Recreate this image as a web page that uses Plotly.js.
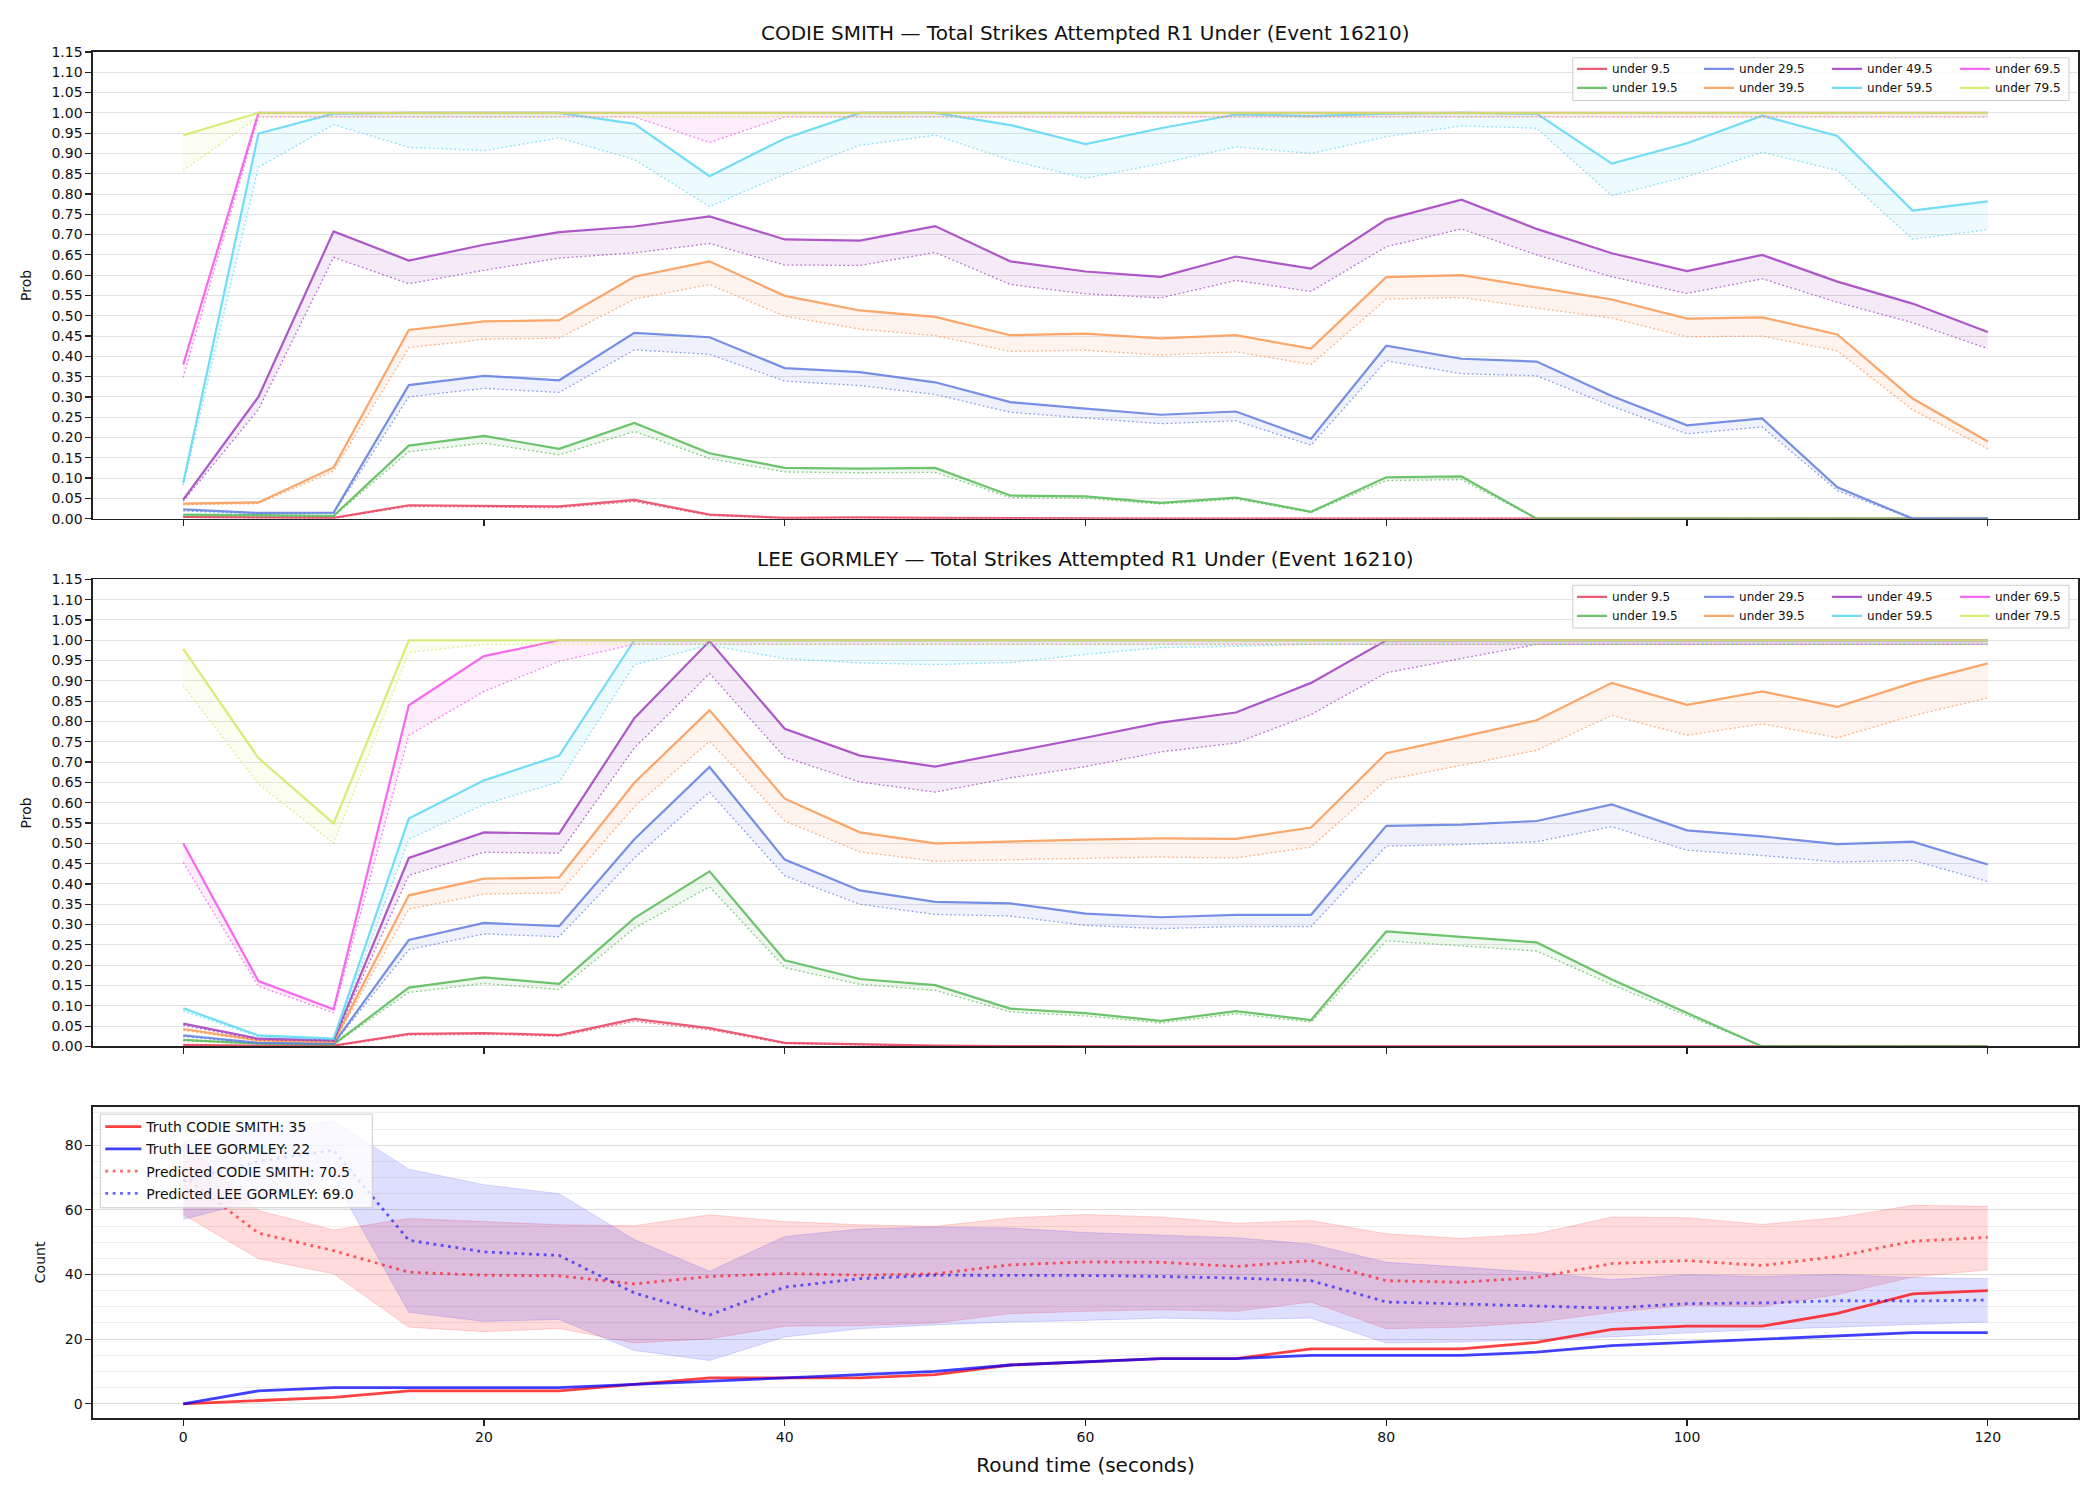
<!DOCTYPE html>
<html>
<head>
<meta charset="utf-8">
<script src="https://cdn.plot.ly/plotly-3.0.1.min.js"></script>
<style>html,body{margin:0;padding:0;background:#fff;}#chart{width:2100px;height:1500px;}</style>
</head>
<body>
<div id="chart"></div>
<script>
// ---------------- DATA ----------------
const times = [0,5,10,15,20,25,30,35,40,45,50,55,60,65,70,75,80,85,90,95,100,105,110,115,120];
const thresholdLabels = ["under 9.5","under 19.5","under 29.5","under 39.5","under 49.5","under 59.5","under 69.5","under 79.5"];

const panelTitles = ["CODIE SMITH \u2014 Total Strikes Attempted R1 Under (Event 16210)",
                     "LEE GORMLEY \u2014 Total Strikes Attempted R1 Under (Event 16210)"];

// CODIE SMITH: solid (main) and dotted (lower) probabilities
const codieU9    = [0.004,0.003,0.002,0.033,0.032,0.030,0.046,0.010,0.002,0.003,0.002,0.001,0,0,0,0,0,0,0,0,0,0,0,0,0];
const codieU9Lo  = [0.003,0.002,0.001,0.030,0.029,0.027,0.042,0.008,0.001,0.002,0.001,0.001,0,0,0,0,0,0,0,0,0,0,0,0,0];
const codieU19   = [0.010,0.008,0.007,0.180,0.204,0.172,0.236,0.161,0.125,0.123,0.125,0.057,0.055,0.039,0.052,0.017,0.102,0.104,0,0,0,0,0,0,0];
const codieU19Lo = [0.007,0.006,0.005,0.165,0.186,0.157,0.215,0.148,0.115,0.113,0.114,0.052,0.050,0.036,0.048,0.015,0.094,0.096,0,0,0,0,0,0,0];
const codieU29   = [0.023,0.014,0.015,0.329,0.352,0.341,0.458,0.447,0.371,0.361,0.336,0.287,0.271,0.256,0.264,0.197,0.426,0.394,0.387,0.302,0.230,0.247,0.077,0,0];
const codieU29Lo = [0.019,0.012,0.013,0.300,0.321,0.311,0.416,0.405,0.339,0.328,0.306,0.262,0.248,0.234,0.241,0.181,0.389,0.357,0.352,0.277,0.209,0.226,0.069,0,0];
const codieU39   = [0.037,0.040,0.126,0.465,0.486,0.489,0.596,0.634,0.549,0.513,0.497,0.452,0.456,0.444,0.452,0.419,0.595,0.600,0.570,0.540,0.493,0.496,0.454,0.296,0.190];
const codieU39Lo = [0.034,0.037,0.117,0.421,0.442,0.445,0.541,0.577,0.499,0.467,0.451,0.412,0.415,0.403,0.411,0.380,0.541,0.545,0.519,0.494,0.448,0.450,0.413,0.268,0.172];
const codieU49   = [0.047,0.300,0.708,0.636,0.675,0.706,0.720,0.745,0.688,0.685,0.721,0.634,0.609,0.596,0.646,0.616,0.737,0.786,0.714,0.654,0.610,0.650,0.584,0.530,0.460];
const codieU49Lo = [0.043,0.269,0.644,0.579,0.612,0.642,0.655,0.678,0.625,0.624,0.656,0.577,0.554,0.544,0.587,0.560,0.670,0.714,0.650,0.596,0.555,0.591,0.533,0.483,0.419];
const codieU59   = [0.088,0.949,0.998,1.0,1.0,1.0,0.973,0.844,0.937,1.0,1.0,0.970,0.923,0.962,0.996,0.992,0.998,1.0,0.998,0.875,0.925,0.993,0.943,0.759,0.782];
const codieU59Lo = [0.082,0.866,0.971,0.915,0.907,0.938,0.885,0.769,0.849,0.920,0.945,0.883,0.839,0.875,0.916,0.900,0.941,0.968,0.962,0.796,0.843,0.903,0.858,0.689,0.712];
const codieU69   = [0.380,1,1,1,1,1,1,1,1,1,1,1,1,1,1,1,1,1,1,1,1,1,1,1,1];
const codieU69Lo = [0.348,0.99,0.99,0.99,0.99,0.99,0.99,0.927,0.99,0.99,0.99,0.99,0.99,0.99,0.99,0.99,0.99,0.99,0.99,0.99,0.99,0.99,0.99,0.99,0.99];
const codieU79   = [0.945,1,1,1,1,1,1,1,1,1,1,1,1,1,1,1,1,1,1,1,1,1,1,1,1];
const codieU79Lo = [0.858,0.99,0.99,0.99,0.99,0.99,0.99,0.99,0.99,0.99,0.99,0.99,0.99,0.99,0.99,0.99,0.99,0.99,0.99,0.99,0.99,0.99,0.99,0.99,0.99];

// LEE GORMLEY
const leeU9    = [0.004,0.002,0.002,0.031,0.033,0.028,0.068,0.045,0.009,0.005,0.002,0.001,0,0,0,0,0,0,0,0,0,0,0,0,0];
const leeU9Lo  = [0.003,0.001,0.001,0.028,0.030,0.025,0.062,0.041,0.007,0.004,0.001,0.001,0,0,0,0,0,0,0,0,0,0,0,0,0];
const leeU19   = [0.016,0.007,0.005,0.145,0.170,0.154,0.316,0.431,0.212,0.166,0.151,0.093,0.082,0.063,0.087,0.065,0.283,0.270,0.256,0.165,0.083,0,0,0,0];
const leeU19Lo = [0.014,0.006,0.004,0.133,0.155,0.140,0.291,0.393,0.194,0.153,0.138,0.085,0.075,0.058,0.080,0.060,0.260,0.248,0.235,0.152,0.076,0,0,0,0];
const leeU29   = [0.027,0.009,0.007,0.262,0.304,0.296,0.510,0.688,0.460,0.384,0.356,0.352,0.327,0.318,0.324,0.324,0.543,0.546,0.555,0.596,0.532,0.517,0.498,0.504,0.448];
const leeU29Lo = [0.024,0.008,0.006,0.238,0.277,0.270,0.464,0.626,0.420,0.350,0.325,0.321,0.298,0.290,0.295,0.295,0.493,0.497,0.504,0.541,0.483,0.470,0.454,0.458,0.406];
const leeU39   = [0.043,0.015,0.011,0.372,0.413,0.416,0.649,0.828,0.610,0.527,0.500,0.505,0.509,0.512,0.511,0.539,0.722,0.762,0.803,0.895,0.841,0.874,0.836,0.895,0.943];
const leeU39Lo = [0.040,0.013,0.009,0.338,0.375,0.378,0.590,0.751,0.555,0.479,0.456,0.460,0.463,0.466,0.464,0.491,0.656,0.692,0.729,0.815,0.766,0.794,0.760,0.814,0.858];
const leeU49   = [0.056,0.019,0.015,0.464,0.527,0.524,0.808,0.998,0.782,0.716,0.689,0.724,0.760,0.797,0.822,0.895,1,1,1,1,1,1,1,1,1];
const leeU49Lo = [0.052,0.016,0.013,0.421,0.478,0.476,0.735,0.918,0.712,0.651,0.626,0.661,0.689,0.725,0.747,0.817,0.920,0.955,0.99,0.99,0.99,0.99,0.99,0.99,0.99];
const leeU59   = [0.094,0.027,0.019,0.561,0.655,0.716,1,1,1,1,1,1,1,1,1,1,1,1,1,1,1,1,1,1,1];
const leeU59Lo = [0.087,0.024,0.016,0.510,0.596,0.651,0.940,0.988,0.955,0.944,0.940,0.945,0.965,0.982,0.985,0.99,0.99,0.99,0.99,0.99,0.99,0.99,0.99,0.99,0.99];
const leeU69   = [0.500,0.161,0.0915,0.840,0.961,1,1,1,1,1,1,1,1,1,1,1,1,1,1,1,1,1,1,1,1];
const leeU69Lo = [0.453,0.148,0.083,0.766,0.874,0.948,0.99,0.99,0.99,0.99,0.99,0.99,0.99,0.99,0.99,0.99,0.99,0.99,0.99,0.99,0.99,0.99,0.99,0.99,0.99];
const leeU79   = [0.979,0.710,0.549,1,1,1,1,1,1,1,1,1,1,1,1,1,1,1,1,1,1,1,1,1,1];
const leeU79Lo = [0.888,0.646,0.500,0.970,0.990,0.99,0.99,0.99,0.99,0.99,0.99,0.99,0.99,0.99,0.99,0.99,0.99,0.99,0.99,0.99,0.99,0.99,0.99,0.99,0.99];

// Bottom panel: counts
const countNames = ["Truth CODIE SMITH: 35","Truth LEE GORMLEY: 22","Predicted CODIE SMITH: 70.5","Predicted LEE GORMLEY: 69.0"];
const truthCodie = [0,1,2,4,4,4,6,8,8,8,9,12,13,14,14,17,17,17,19,23,24,24,28,34,35];
const truthLee   = [0,4,5,5,5,5,6,7,8,9,10,12,13,14,14,15,15,15,16,18,19,20,21,22,22];
const predCodie  = [70.5,52.8,47.4,40.7,39.8,39.6,37.1,39.4,40.3,39.8,40.2,43.0,43.9,43.8,42.5,44.3,38.1,37.6,39.1,43.4,44.3,42.8,45.6,50.3,51.5];
const predLee    = [69.0,75.0,78.5,50.6,47.0,45.9,34.3,27.5,36.1,38.7,39.8,39.8,39.7,39.4,38.9,38.1,31.5,30.9,30.2,29.6,31.0,31.2,31.9,31.8,32.1];
const bandCodieHi = [81.5,59.8,53.8,57.3,56.4,55.4,55.1,58.5,56.4,55.4,54.9,57.5,58.6,57.8,55.9,56.7,52.6,51.2,52.6,57.8,57.6,55.5,57.6,61.4,61.1];
const bandCodieLo = [58.5,44.9,40.2,23.7,22.3,23.3,18.8,20.1,24.0,24.2,25.0,27.9,28.6,29.1,28.6,31.5,23.2,23.7,25.2,28.3,30.4,30.1,33.8,39.2,41.5];
const bandLeeHi   = [81.0,85.0,87.5,72.6,67.8,65.0,50.8,41.0,51.8,54.1,54.7,54.4,53.0,52.1,51.4,49.4,43.8,42.3,40.7,38.4,39.9,39.4,40.0,39.1,38.7];
const bandLeeLo   = [57.0,63.1,69.8,28.3,25.5,26.1,16.5,13.4,20.7,23.2,24.4,25.3,25.8,26.5,26.1,26.5,18.8,19.1,19.9,20.7,21.9,23.0,23.7,24.4,25.3];

// ---------------- STYLE ----------------
const FONT = "DejaVu Sans";
const thrRGB = ["232,64,95","85,186,85","95,125,225","250,150,80","160,60,190","90,215,245","245,80,235","205,235,95"];
const W = 2100, H = 1500;
const M = {l: 92.7, r: 22, t: 51.5, b: 82};
const PW = W - M.l - M.r, PH = H - M.t - M.b;
const px2x = p => (p - M.l) / PW;
const py2y = p => (H - M.b - p) / PH;

const codieHi = [codieU9,codieU19,codieU29,codieU39,codieU49,codieU59,codieU69,codieU79];
const codieLo = [codieU9Lo,codieU19Lo,codieU29Lo,codieU39Lo,codieU49Lo,codieU59Lo,codieU69Lo,codieU79Lo];
const leeHi = [leeU9,leeU19,leeU29,leeU39,leeU49,leeU59,leeU69,leeU79];
const leeLo = [leeU9Lo,leeU19Lo,leeU29Lo,leeU39Lo,leeU49Lo,leeU59Lo,leeU69Lo,leeU79Lo];

const traces = [];
const layoutLegends = {};
function legendId(n){ return n === 1 ? 'legend' : 'legend' + n; }

const colLeft = [1572, 1699, 1827, 1955];
const legTop = [53.8, 582];

[[codieHi,codieLo],[leeHi,leeLo]].forEach(([hiArr, loArr], p) => {
  const xa = p === 0 ? 'x' : 'x2';
  const ya = p === 0 ? 'y' : 'y2';
  for (let c = 0; c < 4; c++) {
    const id = legendId(p*4 + c + 1);
    layoutLegends[id] = {
      x: px2x(colLeft[c]), xref: 'paper', xanchor: 'left',
      y: py2y(legTop[p]), yref: 'paper', yanchor: 'top',
      bgcolor: 'rgba(0,0,0,0)', borderwidth: 0, orientation: 'v',
      font: {family: FONT, size: 12, color: '#111'}, traceorder: 'normal'
    };
  }
  for (let i = 0; i < 8; i++) {
    const rgb = thrRGB[i];
    traces.push({x: times, y: loArr[i], xaxis: xa, yaxis: ya, mode: 'lines', type: 'scatter',
      line: {color: `rgba(${rgb},0.75)`, width: 1.3, dash: '1.7px,2.6px'}, showlegend: false, hoverinfo: 'skip'});
    traces.push({x: times, y: hiArr[i], xaxis: xa, yaxis: ya, mode: 'lines', type: 'scatter',
      line: {color: 'rgba(0,0,0,0)', width: 0}, fill: 'tonexty', fillcolor: `rgba(${rgb},0.1)`,
      showlegend: false, hoverinfo: 'skip'});
    traces.push({x: times, y: hiArr[i], xaxis: xa, yaxis: ya, mode: 'lines', type: 'scatter',
      line: {color: `rgba(${rgb},0.85)`, width: 2.2}, name: thresholdLabels[i],
      legend: legendId(p*4 + Math.floor(i/2) + 1), showlegend: true});
  }
});

// bottom panel
const bl = legendId(9);
layoutLegends[bl] = {
  x: px2x(100), xref: 'paper', xanchor: 'left',
  y: py2y(1111), yref: 'paper', yanchor: 'top',
  bgcolor: 'rgba(0,0,0,0)', borderwidth: 0, orientation: 'v', itemwidth: 36,
  font: {family: FONT, size: 14, color: '#111'}, traceorder: 'grouped', tracegroupgap: 1
};
traces.push({x: times, y: bandCodieLo, xaxis: 'x3', yaxis: 'y3', mode: 'lines', line: {color: 'rgba(255,0,0,0.15)', width: 1}, showlegend: false, hoverinfo: 'skip'});
traces.push({x: times, y: bandCodieHi, xaxis: 'x3', yaxis: 'y3', mode: 'lines', line: {color: 'rgba(255,0,0,0.15)', width: 1}, fill: 'tonexty', fillcolor: 'rgba(255,0,0,0.14)', showlegend: false, hoverinfo: 'skip'});
traces.push({x: times, y: bandLeeLo, xaxis: 'x3', yaxis: 'y3', mode: 'lines', line: {color: 'rgba(0,0,255,0.13)', width: 1}, showlegend: false, hoverinfo: 'skip'});
traces.push({x: times, y: bandLeeHi, xaxis: 'x3', yaxis: 'y3', mode: 'lines', line: {color: 'rgba(0,0,255,0.13)', width: 1}, fill: 'tonexty', fillcolor: 'rgba(0,0,255,0.13)', showlegend: false, hoverinfo: 'skip'});
traces.push({x: times, y: truthCodie, xaxis: 'x3', yaxis: 'y3', mode: 'lines', name: countNames[0], legend: bl, legendgroup: 'g1', line: {color: 'rgba(255,0,0,0.75)', width: 2.8}});
traces.push({x: times, y: truthLee, xaxis: 'x3', yaxis: 'y3', mode: 'lines', name: countNames[1], legend: bl, legendgroup: 'g2', line: {color: 'rgba(0,0,255,0.75)', width: 2.8}});
traces.push({x: times, y: predCodie, xaxis: 'x3', yaxis: 'y3', mode: 'lines', name: countNames[2], legend: bl, legendgroup: 'g3', line: {color: 'rgba(255,0,0,0.6)', width: 2.8, dash: '2.8px,4.6px'}});
traces.push({x: times, y: predLee, xaxis: 'x3', yaxis: 'y3', mode: 'lines', name: countNames[3], legend: bl, legendgroup: 'g4', line: {color: 'rgba(0,0,255,0.6)', width: 2.8, dash: '2.8px,4.6px'}});

// axes
const tickFont = {family: FONT, size: 14, color: '#111'};
function xAxis(anchor, labels) {
  const a = {anchor: anchor, domain: [0,1], range: [-6,126], tickmode: 'array', tickvals: [0,20,40,60,80,100,120],
    ticks: 'outside', ticklen: 6, tickwidth: 1.2, tickcolor: '#222', showticklabels: labels, tickfont: tickFont,
    showline: true, mirror: true, linecolor: '#222', linewidth: 1.6, showgrid: false, zeroline: false};
  if (labels) a.title = {text: 'Round time (seconds)', font: {family: FONT, size: 20, color: '#111'}, standoff: 13};
  return a;
}
function probAxis(domain) {
  return {domain: domain, range: [0,1.15], tickmode: 'linear', tick0: 0, dtick: 0.05, tickformat: '.2f',
    ticks: 'outside', ticklen: 6, tickwidth: 1.2, tickcolor: '#222', tickfont: tickFont,
    showline: true, mirror: true, linecolor: '#222', linewidth: 1.6,
    showgrid: true, gridcolor: '#e3e3e3', gridwidth: 1, zeroline: false,
    title: {text: 'Prob', font: {family: FONT, size: 14, color: '#111'}, standoff: 16}};
}

const shapes = [];
function box(x0, x1, y0, y1) {
  shapes.push({type: 'rect', xref: 'paper', yref: 'paper', x0: px2x(x0), x1: px2x(x1), y0: py2y(y1), y1: py2y(y0),
    line: {color: '#cccccc', width: 1}, fillcolor: 'rgba(255,255,255,0.8)', layer: 'above'});
}
box(1572.7, 2069, 57.3, 100);
box(1572.7, 2069, 585, 627.7);
box(100, 372, 1114, 1207.7);

const annotations = [
  {text: panelTitles[0], xref: 'paper', yref: 'paper', x: 0.5, y: py2y(32), xanchor: 'center', yanchor: 'middle', showarrow: false, font: {family: FONT, size: 20, color: '#111'}},
  {text: panelTitles[1], xref: 'paper', yref: 'paper', x: 0.5, y: py2y(559), xanchor: 'center', yanchor: 'middle', showarrow: false, font: {family: FONT, size: 20, color: '#111'}}
];

const layout = Object.assign({
  width: W, height: H,
  margin: {l: M.l, r: M.r, t: M.t, b: M.b, pad: 0, autoexpand: false},
  paper_bgcolor: '#ffffff', plot_bgcolor: '#ffffff',
  font: {family: FONT, size: 14, color: '#111'},
  xaxis: xAxis('y', false),
  xaxis2: xAxis('y2', false),
  xaxis3: xAxis('y3', true),
  yaxis: probAxis([py2y(518.3), py2y(51.5)]),
  yaxis2: probAxis([py2y(1046.3), py2y(579)]),
  yaxis3: {domain: [0, py2y(1106.7)], range: [-4.4, 91.9], tickmode: 'linear', tick0: 0, dtick: 20,
    ticks: 'outside', ticklen: 6, tickwidth: 1.2, tickcolor: '#222', tickfont: tickFont,
    showline: true, mirror: true, linecolor: '#222', linewidth: 1.6,
    showgrid: true, gridcolor: '#dcdcdc', gridwidth: 1, zeroline: false,
    minor: {tick0: 0, dtick: 5, showgrid: true, gridcolor: '#eeeeee', gridwidth: 1, ticks: ''},
    title: {text: 'Count', font: {family: FONT, size: 14, color: '#111'}, standoff: 16}},
  shapes: shapes,
  annotations: annotations,
  showlegend: true
}, layoutLegends);

Plotly.newPlot('chart', traces, layout, {displayModeBar: false, staticPlot: true});
</script>
</body>
</html>
